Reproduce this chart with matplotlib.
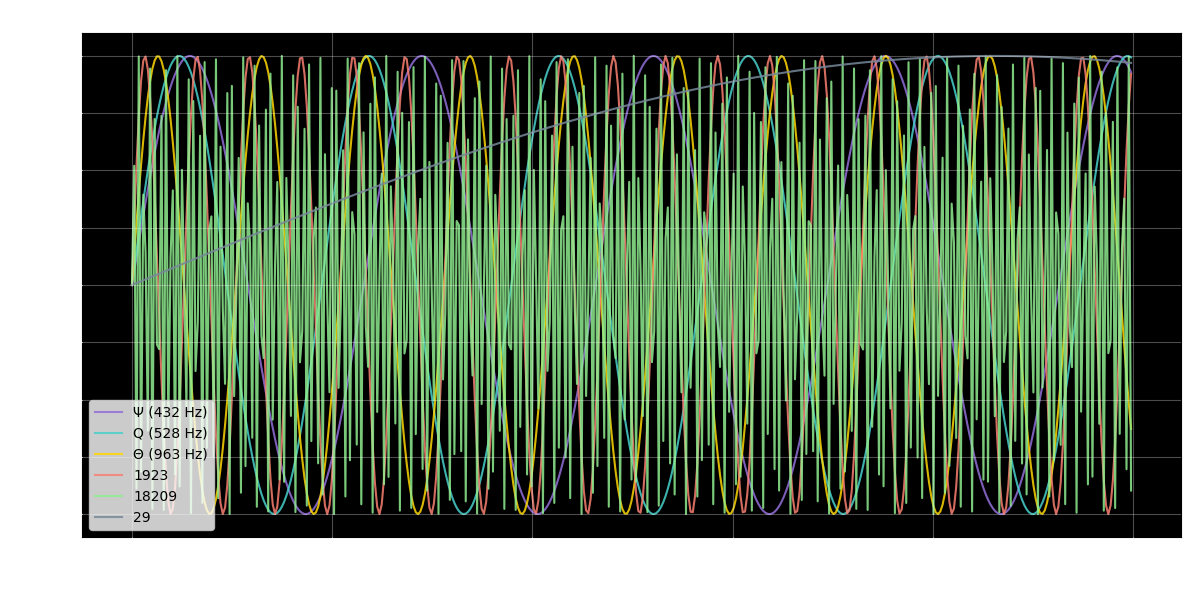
import matplotlib
matplotlib.use("Agg")
import matplotlib.pyplot as plt
import numpy as np

# tones shown in the chart
labels = ["Ψ (432 Hz)", "Q (528 Hz)", "Θ (963 Hz)", "1923", "18209", "29"]
freqs = [432, 528, 963, 1923, 18209, 29]
colors = ["#9370DB", "#48D1CC", "#FFD700", "#FA8072", "#90EE90", "#778899"]

sample_rate = 44100
duration = 0.01
t = np.arange(int(sample_rate * duration)) / sample_rate

fig = plt.figure(figsize=(11.89, 5.9), dpi=100, facecolor="white")
ax = fig.add_axes([82 / 1189, 53 / 590, 1099 / 1189, 504 / 590])
ax.set_facecolor("black")

for f, lab, c in zip(freqs, labels, colors):
    ax.plot(t, np.sin(2 * np.pi * f * t), color=c, lw=1.5, alpha=0.85, label=lab)

ax.set_xticks(np.arange(0, 0.0101, 0.002))
ax.set_yticks(np.arange(-1, 1.01, 0.25))
ax.set_axisbelow(False)
ax.grid(True, color="white", alpha=0.3, lw=0.8)
# labels are white on the white figure, as in the original
ax.tick_params(colors="white", labelcolor="white")
ax.set_xlabel("Time (s)", color="white")
ax.set_ylabel("Amplitude", color="white")
for s in ax.spines.values():
    s.set_color("black")

ax.legend(loc="lower left", facecolor="white", framealpha=0.8, labelcolor="black")

fig.savefig("out.png", dpi=100, facecolor="white")
